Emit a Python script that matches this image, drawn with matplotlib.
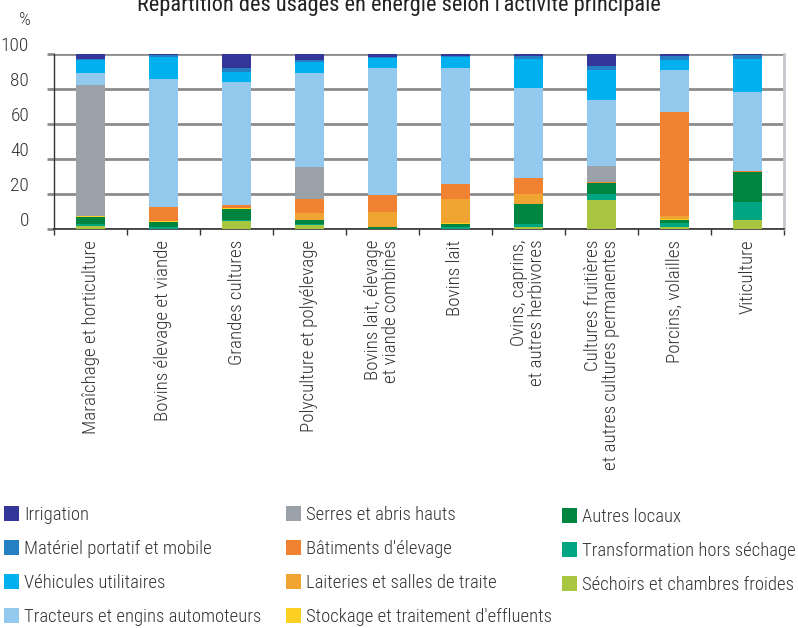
import matplotlib
matplotlib.use("Agg")
import matplotlib.pyplot as plt
import matplotlib.transforms as mtransforms
from matplotlib import font_manager as fm
from matplotlib.patches import Patch
import numpy as np

fonts = {(f.name, f.stretch) for f in fm.fontManager.ttflist}
if ('Roboto Condensed', 'condensed') in fonts:
    BASE = dict(family=['Roboto Condensed', 'DejaVu Sans'], stretch='condensed', weight=300)
elif ('Open Sans', 'condensed') in fonts:
    BASE = dict(family=['Open Sans', 'DejaVu Sans'], stretch='condensed', weight=300)
else:
    BASE = dict(family=['Liberation Sans Narrow', 'DejaVu Sans'], stretch='normal', weight=400)
plt.rcParams['font.family'] = BASE['family']
plt.rcParams['font.stretch'] = BASE['stretch']
plt.rcParams['font.weight'] = BASE['weight']

title = "Répartition des usages en énergie selon l'activité principale"

categories = [
    "Maraîchage et horticulture",
    "Bovins élevage et viande",
    "Grandes cultures",
    "Polyculture et polyélevage",
    "Bovins lait, élevage\net viande combinés",
    "Bovins lait",
    "Ovins, caprins,\net autres herbivores",
    "Cultures fruitières\net autres cultures permanentes",
    "Porcins, volailles",
    "Viticulture",
]

# Stacked from bottom to top
series_names = [
    "Séchoirs et chambres froides",
    "Transformation hors séchage",
    "Autres locaux",
    "Stockage et traitement d'effluents",
    "Laiteries et salles de traite",
    "Bâtiments d'élevage",
    "Serres et abris hauts",
    "Tracteurs et engins automoteurs",
    "Véhicules utilitaires",
    "Matériel portatif et mobile",
    "Irrigation",
]

sechoirs       = [1.5, 0.0, 4.4, 2.3, 0.0, 0.0, 1.0, 16.4, 1.0, 5.0]
transformation = [1.1, 1.0, 0.6, 0.6, 0.0, 1.0, 1.7, 3.4, 2.3, 10.3]
autres_locaux  = [4.0, 2.9, 6.3, 2.1, 1.0, 1.7, 11.5, 6.3, 1.7, 17.2]
stockage       = [0.8, 0.4, 0.6, 0.0, 0.0, 0.6, 0.0, 0.0, 0.6, 0.0]
laiteries      = [0.0, 0.0, 0.0, 4.0, 8.6, 13.7, 5.7, 0.0, 1.7, 0.0]
batiments      = [0.0, 8.2, 1.7, 8.0, 9.7, 8.6, 9.2, 0.6, 59.5, 0.6]
serres         = [74.8, 0.0, 0.0, 18.3, 0.0, 0.0, 0.0, 9.2, 0.0, 0.0]
tracteurs      = [6.9, 73.3, 70.4, 53.8, 72.7, 66.4, 51.5, 37.8, 24.0, 45.2]
vehicules      = [7.6, 12.6, 5.7, 6.3, 5.9, 6.5, 16.6, 17.2, 5.7, 18.9]
materiel       = [0.6, 1.0, 2.3, 1.1, 0.6, 0.6, 1.7, 2.3, 2.3, 2.3]
irrigation     = [2.7, 0.8, 8.0, 3.4, 1.5, 1.0, 1.1, 6.9, 1.1, 0.6]

series_values = [sechoirs, transformation, autres_locaux, stockage, laiteries,
                 batiments, serres, tracteurs, vehicules, materiel, irrigation]

colors = ["#a8c63f", "#00a582", "#008540", "#fcd023", "#f0a431",
          "#f08232", "#9aa1a8", "#94c9ee", "#00b0ef", "#2480c3", "#35369a"]

y_ticks = [0, 20, 40, 60, 80, 100]

TXT = "#333333"

fig = plt.figure(figsize=(7.98, 6.28), dpi=100)
renderer = fig.canvas.get_renderer()


def measure(s, size, weight=None):
    t = fig.text(0, 0, s, fontsize=size, weight=weight or BASE['weight'])
    bb = t.get_window_extent(renderer)
    t.remove()
    return bb.width, bb.height


def fit_size(s, target_px, weight=None, lo=9, hi=22):
    w, _ = measure(s, 10, weight)
    return float(np.clip(10 * target_px / w, lo, hi))


fs_leg = fit_size("Tracteurs et engins automoteurs", 237)
fs_x = fit_size("Maraîchage et horticulture", 194)
fs_title = fit_size(title, 518, weight=400, hi=24)

ax = fig.add_axes([54/798, 1-228.7/628, (784-54)/798, (228.7-54)/628])

x = np.arange(len(categories))
bottom = np.zeros(len(categories))
for name, vals, col in zip(series_names, series_values, colors):
    vals = np.array(vals)
    ax.bar(x, vals, bottom=bottom, width=0.41, color=col, zorder=3, linewidth=0)
    bottom += vals

ax.set_xlim(-0.5, len(categories) - 0.5)
ax.set_ylim(0, 100)

ax.set_yticks(y_ticks)
ax.yaxis.grid(True, color="#8c8c8c", linewidth=2, zorder=0)
ax.tick_params(axis='y', length=5, width=2, color="#8c8c8c", pad=13,
               labelsize=fs_leg + 0.5, labelcolor=TXT)
for lab in ax.get_yticklabels():
    lab.set_transform(lab.get_transform() + mtransforms.ScaledTranslation(0, 10/100, fig.dpi_scale_trans))

ax.set_xticks(x)
ax.set_xticklabels(categories, rotation=90, va='top', ha='center',
                   multialignment='right', fontsize=fs_x, color=TXT, linespacing=1.0)
ax.tick_params(axis='x', which='major', length=0, pad=8)
ax.set_xticks(np.arange(-0.5, len(categories), 1.0), minor=True)
ax.tick_params(axis='x', which='minor', length=4, width=1, color=TXT)

ax.spines['top'].set_visible(False)
ax.spines['right'].set_color("#c4c8cc")
ax.spines['right'].set_linewidth(2)
ax.spines['left'].set_color(TXT)
ax.spines['bottom'].set_color(TXT)
ax.spines['bottom'].set_linewidth(1.2)
ax.spines['left'].set_linewidth(1)

fig.text(19/798, 1-20/628, "%", fontsize=fs_leg, color=TXT, ha='left', va='center')
fig.text(0.5, 1-11/628, title, fontsize=fs_title, color="#222222", ha='center', va='baseline',
         weight=400)

handles = [Patch(facecolor=c, edgecolor='none') for c in colors[::-1]]
labels = series_names[::-1]
fs_px = fs_leg * 100 / 72
_, text_h = measure("Tracteurs et engins automoteurs", fs_leg)
row_h = max(text_h, 16)
spacing = max(34 - row_h, 2) / fs_px
col_groups = [(0, 4, 4/798, 1-(514.5 - row_h/2)/628), (4, 8, 286/798, 1-(514.5 - row_h/2)/628),
              (8, 11, 562/798, 1-(517 - row_h/2)/628)]
for a, b, lx, ly in col_groups:
    fig.legend(handles[a:b], labels[a:b], loc='upper left',
               bbox_to_anchor=(lx, ly), frameon=False,
               fontsize=fs_leg, handlelength=15/fs_px, handleheight=16/fs_px,
               handletextpad=5/fs_px, labelspacing=spacing,
               labelcolor=TXT, borderaxespad=0, borderpad=0)

fig.savefig("out.png", dpi=100)
